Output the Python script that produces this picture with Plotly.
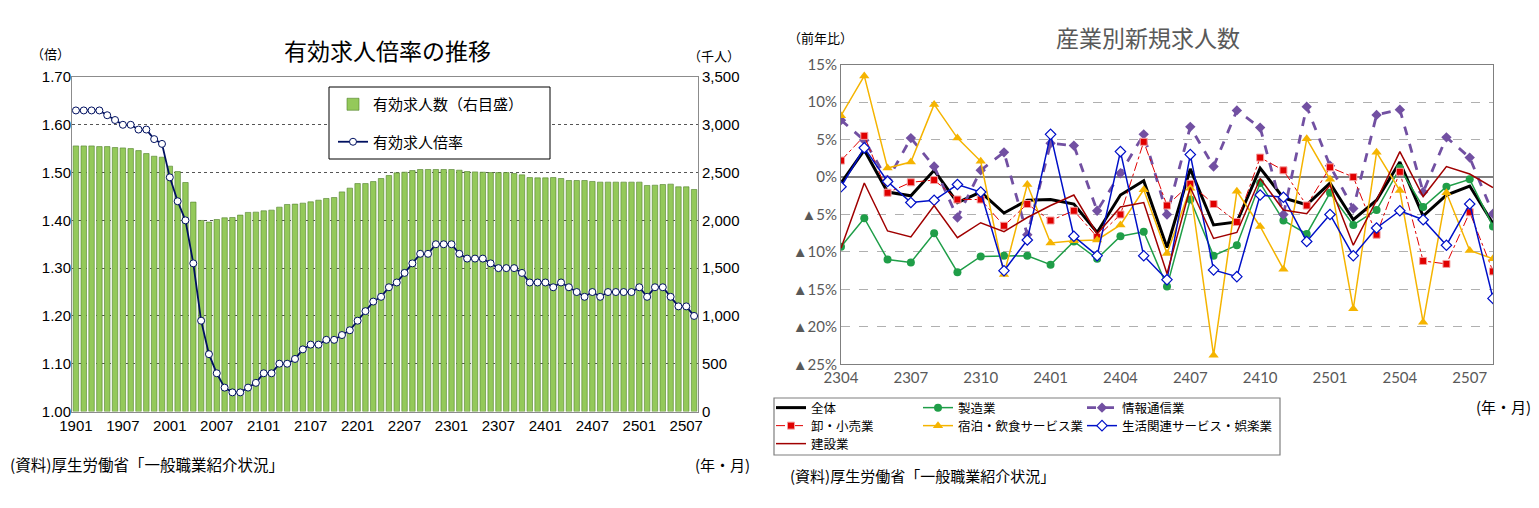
import plotly.graph_objects as go

W, H = 1539, 508

# ---- left chart: 有効求人倍率 / 有効求人数 (2019/01 - 2025/08)
months_left = [
    "1901", "1902", "1903", "1904", "1905", "1906", "1907", "1908", "1909", "1910", "1911", "1912",
    "2001", "2002", "2003", "2004", "2005", "2006", "2007", "2008", "2009", "2010", "2011", "2012",
    "2101", "2102", "2103", "2104", "2105", "2106", "2107", "2108", "2109", "2110", "2111", "2112",
    "2201", "2202", "2203", "2204", "2205", "2206", "2207", "2208", "2209", "2210", "2211", "2212",
    "2301", "2302", "2303", "2304", "2305", "2306", "2307", "2308", "2309", "2310", "2311", "2312",
    "2401", "2402", "2403", "2404", "2405", "2406", "2407", "2408", "2409", "2410", "2411", "2412",
    "2501", "2502", "2503", "2504", "2505", "2506", "2507", "2508",
]
left_ticks = ["1901", "1907", "2001", "2007", "2101", "2107", "2201", "2207",
              "2301", "2307", "2401", "2407", "2501", "2507"]

openings = [  # 千人
    2779, 2779, 2779, 2772, 2772, 2762, 2758, 2751, 2730, 2699, 2671, 2661,
    2567, 2511, 2396, 2191, 1999, 1982, 2009, 2027, 2030, 2055, 2083, 2086,
    2100, 2107, 2138, 2166, 2170, 2180, 2194, 2211, 2229, 2239, 2298, 2337,
    2385, 2385, 2406, 2438, 2469, 2497, 2504, 2521, 2532, 2532, 2532, 2532,
    2532, 2525, 2511, 2507, 2504, 2500, 2500, 2500, 2490, 2476, 2448, 2445,
    2445, 2448, 2438, 2417, 2417, 2417, 2407, 2400, 2400, 2400, 2400, 2400,
    2400, 2365, 2368, 2375, 2379, 2351, 2351, 2323,
]
ratio = [
    1.63, 1.63, 1.63, 1.63, 1.62, 1.61, 1.60, 1.60, 1.59, 1.59, 1.57, 1.56,
    1.49, 1.44, 1.40, 1.31, 1.19, 1.12, 1.08, 1.05, 1.04, 1.04, 1.05, 1.06,
    1.08, 1.08, 1.10, 1.10, 1.11, 1.13, 1.14, 1.14, 1.15, 1.15, 1.16, 1.17,
    1.19, 1.21, 1.23, 1.24, 1.26, 1.27, 1.29, 1.31, 1.33, 1.33, 1.35, 1.35,
    1.35, 1.33, 1.32, 1.32, 1.32, 1.31, 1.30, 1.30, 1.30, 1.29, 1.27, 1.27,
    1.27, 1.26, 1.27, 1.26, 1.25, 1.24, 1.25, 1.24, 1.25, 1.25, 1.25, 1.25,
    1.26, 1.24, 1.26, 1.26, 1.24, 1.22, 1.22, 1.20,
]

# ---- right chart: 産業別新規求人数 前年比 (2023/04 - 2025/08)
months_right = [
    "2304", "2305", "2306", "2307", "2308", "2309", "2310", "2311", "2312",
    "2401", "2402", "2403", "2404", "2405", "2406", "2407", "2408", "2409", "2410", "2411", "2412",
    "2501", "2502", "2503", "2504", "2505", "2506", "2507", "2508",
]
right_ticks = ["2304", "2307", "2310", "2401", "2404", "2407", "2410", "2501", "2504", "2507"]
pct_vals = [15, 10, 5, 0, -5, -10, -15, -20, -25]
pct_text = ["15%", "10%", "5%", "0%", "▲5%", "▲10%", "▲15%", "▲20%", "▲25%"]

total = [-0.8, 3.6, -2.0, -2.5, 0.9, -3.4, -2.0, -4.8, -3.1,
         -3.0, -3.6, -7.4, -2.4, -0.5, -9.4, 1.1, -6.4, -6.0, 1.2, -2.8, -3.7,
         -0.8, -5.7, -3.1, 2.0, -5.2, -2.4, -1.2, -6.2]
manufacturing = [-9.3, -5.5, -11.0, -11.4, -7.5, -12.7, -10.6, -10.5, -10.5,
                 -11.7, -8.6, -10.9, -7.9, -7.3, -14.6, -3.0, -10.5, -9.1, -0.8, -5.8, -7.6,
                 -2.1, -6.4, -4.4, 1.2, -4.0, -1.3, -0.3, -6.6]
info_comm = [7.6, 4.9, -0.4, 5.2, 1.4, -5.4, 0.9, 3.3, -7.7,
             4.5, 4.2, -4.5, 0.5, 5.7, -5.0, 6.7, 1.4, 8.9, 6.6, -5.0, 9.4,
             1.5, -4.2, 8.3, 9.0, -2.0, 5.3, 2.6, -4.9]
wholesale = [2.2, 5.5, -2.1, -0.7, -0.4, -3.0, -3.0, -6.5, -3.6,
             -5.8, -4.5, -8.0, -5.0, 4.7, -3.8, -0.9, -3.6, -6.0, 2.6, 0.9, -3.8,
             1.3, 0.0, -7.7, 0.7, -11.2, -11.6, -4.7, -12.6]
hospitality = [8.2, 13.5, 1.2, 2.0, 9.7, 5.2, 2.1, -13.0, -1.0,
               -8.8, -8.5, -8.4, -6.4, -1.7, -10.2, -1.5, -23.8, -1.9, -6.6, -12.3, 5.1,
               -0.3, -17.6, 3.3, -1.8, -19.4, -2.1, -9.8, -10.9]
living = [-1.3, 3.9, -0.6, -3.4, -3.1, -1.0, -2.0, -12.5, -8.4,
          5.7, -7.9, -10.5, 3.4, -10.5, -13.7, 3.0, -12.4, -13.3, -2.4, -2.7, -8.6,
          -5.0, -10.5, -6.8, -4.5, -5.7, -9.1, -3.6, -16.2]
construction = [-9.5, -0.8, -7.2, -8.0, -3.8, -8.1, -6.1, -7.3, -5.4,
                -3.8, -2.4, -7.6, -4.0, -3.4, -12.9, -1.4, -8.2, -7.4, -0.2, -4.4, -4.9,
                -1.1, -9.1, -3.1, 3.4, -2.6, 1.4, 0.4, -1.4]

JP = "Noto Sans CJK JP"
NARROW = "Liberation Sans Narrow, Liberation Sans, sans-serif"
GREY = "#595959"


def px(x):
    return x / W


def py(y):
    return 1 - y / H


fig = go.Figure()

# left chart
fig.add_trace(go.Bar(
    x=months_left, y=openings, name="有効求人数（右目盛）",
    marker=dict(color="#94C95A", line=dict(color="#4F7F2A", width=0.6)),
    xaxis="x", yaxis="y", legend="legend", legendgroup="a",
))
fig.add_trace(go.Scatter(
    x=months_left, y=ratio, name="有効求人倍率", mode="lines+markers",
    line=dict(color="#001060", width=1.8),
    marker=dict(symbol="circle", size=7, color="white", line=dict(color="#001060", width=1)),
    xaxis="x", yaxis="y2", legend="legend", legendgroup="b",
))

# right chart: one small legend per entry, laid out as a 3-column box
cols = [771, 918, 1082]
rows = [408, 426, 444]
series = [
    ("全体", total, dict(color="black", width=3), None, 0, 0),
    ("製造業", manufacturing, dict(color="#1F9E48", width=1.5),
     dict(symbol="circle", size=8, color="#1F9E48"), 1, 0),
    ("情報通信業", info_comm, dict(color="#7250A2", width=2.8, dash="dash"),
     dict(symbol="diamond", size=8, color="#7250A2"), 2, 0),
    ("卸・小売業", wholesale, dict(color="#E00000", width=1, dash="dashdot"),
     dict(symbol="square", size=7, color="#E00000", line=dict(color="#F4A0A0", width=1)), 0, 1),
    ("宿泊・飲食サービス業", hospitality, dict(color="#F5B400", width=1.5),
     dict(symbol="triangle-up", size=9, color="#F5B400"), 1, 1),
    ("生活関連サービス・娯楽業", living, dict(color="#0010C8", width=1.5),
     dict(symbol="diamond", size=8, color="white", line=dict(color="#0010C8", width=1.2)), 2, 1),
    ("建設業", construction, dict(color="#A00000", width=1.5), None, 0, 2),
]
legend_boxes = {}
for i, (name, vals, line, marker, c, r) in enumerate(series):
    lg = "legend%d" % (i + 2)
    fig.add_trace(go.Scatter(
        x=months_right, y=vals, name=name,
        mode="lines+markers" if marker else "lines",
        line=line, marker=marker, xaxis="x3", yaxis="y3", legend=lg,
    ))
    legend_boxes[lg] = dict(x=px(cols[c]), y=py(rows[r]), xanchor="left", yanchor="middle",
                            orientation="v", itemwidth=30, bgcolor="rgba(0,0,0,0)",
                            font=dict(family=JP, size=12.5, color="black"))

left_dom_x = [px(72), px(698)]
left_dom_y = [py(411.5), py(77)]
right_dom_x = [px(841), px(1493)]
right_dom_y = [py(364.3), py(64.7)]

fig.update_layout(
    width=W, height=H,
    margin=dict(l=0, r=0, t=0, b=0, autoexpand=False),
    paper_bgcolor="white", plot_bgcolor="white",
    font=dict(family=JP, color="black"),
    bargap=0.3,
    xaxis=dict(domain=left_dom_x, anchor="y", type="category", range=[-0.5, 79.5],
               tickmode="array", tickvals=left_ticks, ticktext=left_ticks,
               tickfont=dict(family=NARROW, size=15, color="black"), ticks="",
               showline=True, mirror=True, linecolor="#8c8c8c", linewidth=1,
               showgrid=False, automargin=False),
    yaxis=dict(domain=left_dom_y, anchor="x", side="right", range=[0, 3500], dtick=500,
               tickformat=",", tickfont=dict(family=NARROW, size=15, color="black"),
               showgrid=True, gridcolor="#555555", griddash="dot", gridwidth=1,
               zeroline=False, showline=True, mirror=True, linecolor="#8c8c8c", ticks="",
               automargin=False),
    yaxis2=dict(overlaying="y", anchor="x", side="left", range=[1.0, 1.7], dtick=0.1,
                tickformat=".2f", tickfont=dict(family=NARROW, size=15, color="black"),
                showgrid=False, zeroline=False, ticks="", automargin=False),
    xaxis3=dict(domain=right_dom_x, anchor="y3", type="category", range=[0, 28],
                tickmode="array", tickvals=right_ticks, ticktext=right_ticks,
                tickfont=dict(family="Lato", size=15, color=GREY), ticks="",
                showline=True, mirror=True, linecolor="#7f7f7f", linewidth=1,
                showgrid=False, automargin=False),
    yaxis3=dict(domain=right_dom_y, anchor="x3", range=[-25, 15],
                tickmode="array", tickvals=pct_vals, ticktext=pct_text,
                tickfont=dict(family="Lato", size=15, color=GREY), ticks="",
                showgrid=True, gridcolor="#b0b0b0", griddash="dash", gridwidth=1,
                zeroline=True, zerolinecolor="#808080", zerolinewidth=1.5,
                showline=True, mirror=True, linecolor="#7f7f7f", linewidth=1,
                automargin=False),
    legend=dict(x=px(333), y=py(88), xanchor="left", yanchor="top",
                orientation="v", traceorder="grouped", tracegroupgap=15,
                itemwidth=30, font=dict(family=JP, size=15, color="black"),
                bgcolor="rgba(0,0,0,0)"),
    showlegend=True,
    **legend_boxes,
)

# legend boxes
fig.add_shape(type="rect", xref="paper", yref="paper",
              x0=px(329), x1=px(550), y0=py(159), y1=py(87),
              line=dict(color="black", width=1), fillcolor="white", layer="above")
fig.add_shape(type="rect", xref="paper", yref="paper",
              x0=px(774), x1=px(1280), y0=py(455), y1=py(398),
              line=dict(color="#7f7f7f", width=1.2), fillcolor="white", layer="above")

ann = [
    ("有効求人倍率の推移", 387, 50, "center", 23, "black"),
    ("（倍）", 50, 53, "center", 13, "black"),
    ("（千人）", 714, 55, "center", 13, "black"),
    ("(資料)厚生労働省「一般職業紹介状況」", 8, 464, "left", 15.5, "black"),
    ("(年・月)", 722, 464, "center", 15, "black"),
    ("産業別新規求人数", 1148, 37, "center", 23, GREY),
    ("（前年比）", 820, 38, "center", 13, "black"),
    ("(年・月)", 1503, 406, "center", 15, "black"),
    ("(資料)厚生労働省「一般職業紹介状況」", 788, 475, "left", 15, "black"),
]
for text, x, y, anchor, size, color in ann:
    fig.add_annotation(text=text, xref="paper", yref="paper", x=px(x), y=py(y),
                       xanchor=anchor, yanchor="middle", showarrow=False,
                       font=dict(family=JP, size=size, color=color))

# the page body's default 8px margin would shift the whole picture
fig.write_html("out.html", config={"displayModeBar": False},
               post_script="document.body.style.margin = '0px';")
